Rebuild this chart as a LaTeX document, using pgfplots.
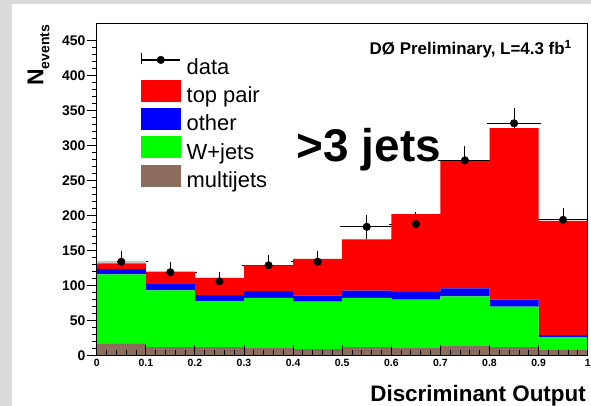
\documentclass[border=0pt]{standalone}
\usepackage{fontspec}
\setmainfont{Liberation Sans}
\usepackage{pgfplots}
\usepackage{pgfplotstable}
\pgfplotsset{compat=1.18}

\definecolor{bggray}{RGB}{218,218,218}
\definecolor{mjbrown}{RGB}{140,108,92}
\definecolor{restgray}{RGB}{200,200,200}

% stacked predictions per bin (left edge; last bin repeated at x=1)
\pgfplotstableread{
x    mj    wj    oth   tt     rest
0.0  16.5  99.5  7.6   8.1    3.7
0.1  12    81    10    17     0
0.2  12    66    8.4   24.6   0
0.3  11.5  71    9.5   37     0
0.4  9     68    8.5   52.5   0
0.5  12    70.5  10.1  73.4   0
0.6  11.5  68.5  11    111    0
0.7  14.5  70    11.5  182    0
0.8  12    58    10    245    0
0.9  8     18    3.3   163.3  0
1.0  8     18    3.3   163.3  0
}\histtab

% observed events with statistical uncertainty
\pgfplotstableread{
x     n    e
0.05  134  11.6
0.15  119  10.9
0.25  106  10.3
0.35  129  11.4
0.45  134  11.6
0.55  184  13.6
0.65  188  13.7
0.75  279  16.7
0.85  332  18.2
0.95  194  13.9
}\datatab

\begin{document}
\begin{tikzpicture}
\useasboundingbox (0,0) rectangle (591bp,406bp);
\fill[bggray] (0,0) rectangle (591bp,406bp);
\fill[white] (12bp,0) rectangle (591bp,402bp);

\begin{axis}[
  at={(96.7bp,50.5bp)}, anchor=south west,
  scale only axis, width=491bp, height=331.5bp,
  xmin=0, xmax=1, ymin=0, ymax=474,
  axis on top,
  axis line style={line width=1bp},
  xtick={0,0.1,0.2,0.3,0.4,0.5,0.6,0.7,0.8,0.9,1},
  ytick={0,50,100,150,200,250,300,350,400,450},
  minor x tick num=4, minor y tick num=4,
  xtick pos=bottom, ytick pos=left,
  xtick align=inside, ytick align=outside,
  major tick length=10bp, minor tick length=5bp,
  every tick/.style={black, line width=0.9bp},
  /pgf/number format/assume math mode=true,
  xticklabel style={font=\bfseries\fontsize{10.5}{11}\selectfont, inner sep=0pt, yshift=-3.8bp},
  yticklabel style={font=\bfseries\fontsize{14}{14}\selectfont, inner sep=1bp},
  stack plots=y,
  legend style={at={(0.0896,0.914)}, anchor=north west, draw=none, fill=none,
    inner sep=0pt, row sep=4bp, column sep=6bp,
    font=\fontsize{22}{22}\selectfont, nodes={inner sep=0pt}},
  legend cell align=left,
]
\addplot[const plot, fill=mjbrown, draw=none, forget plot] table[x=x,y=mj] {\histtab} \closedcycle;
\addplot[const plot, fill=green, draw=none, forget plot] table[x=x,y=wj] {\histtab} \closedcycle;
\addplot[const plot, fill=blue, draw=none, forget plot] table[x=x,y=oth] {\histtab} \closedcycle;
\addplot[const plot, fill=red, draw=none, forget plot] table[x=x,y=tt] {\histtab} \closedcycle;
\addplot[const plot, fill=restgray, draw=none, forget plot] table[x=x,y=rest] {\histtab} \closedcycle;

\addplot[stack plots=false, forget plot, only marks, black, mark=*, mark size=3.8bp,
  error bars/.cd, x dir=both, x fixed=0.05, y dir=both, y explicit,
  error bar style={line width=1bp, black},
  error mark options={black, mark size=2.5bp, line width=1bp}]
  table[x=x, y=n, y error=e] {\datatab};

\addlegendimage{legend image code/.code={
  \path (0,3bp) -- (0,14bp);
  \draw[black, line width=1.2bp] (0,7bp) -- (38.6bp,7bp);
  \fill[black] (19.3bp,7bp) circle (3.8bp);}}
\addlegendentry{data}
\addlegendimage{legend image code/.code={\fill[red] (0,-5.5bp) rectangle (38.6bp,15.5bp);}}
\addlegendentry{top pair}
\addlegendimage{legend image code/.code={\fill[blue] (0,-5.5bp) rectangle (38.6bp,15.5bp);}}
\addlegendentry{other}
\addlegendimage{legend image code/.code={\fill[green] (0,-5.5bp) rectangle (38.6bp,15.5bp);}}
\addlegendentry{W+jets}
\addlegendimage{legend image code/.code={\fill[mjbrown] (0,-5.5bp) rectangle (38.6bp,15.5bp);}}
\addlegendentry{multijets}
\end{axis}

\node[anchor=base east, inner sep=0pt, font=\bfseries\fontsize{17}{17}\selectfont]
  at (572bp,351bp) {DØ Preliminary, L=4.3 fb\textsuperscript{1}};
\node[anchor=base west, inner sep=0pt, font=\bfseries\fontsize{46}{46}\selectfont]
  at (296.7bp,244.3bp) {>3 jets};
\node[anchor=base east, inner sep=0pt, font=\bfseries\fontsize{22.5}{22.5}\selectfont]
  at (586bp,4.3bp) {Discriminant Output};
\node[anchor=base west, inner sep=0pt, rotate=90, font=\bfseries\fontsize{23}{23}\selectfont]
  at (43.3bp,320bp) {N{\fontsize{14}{14}\selectfont\raisebox{-6bp}{events}}};
\end{tikzpicture}
\end{document}
